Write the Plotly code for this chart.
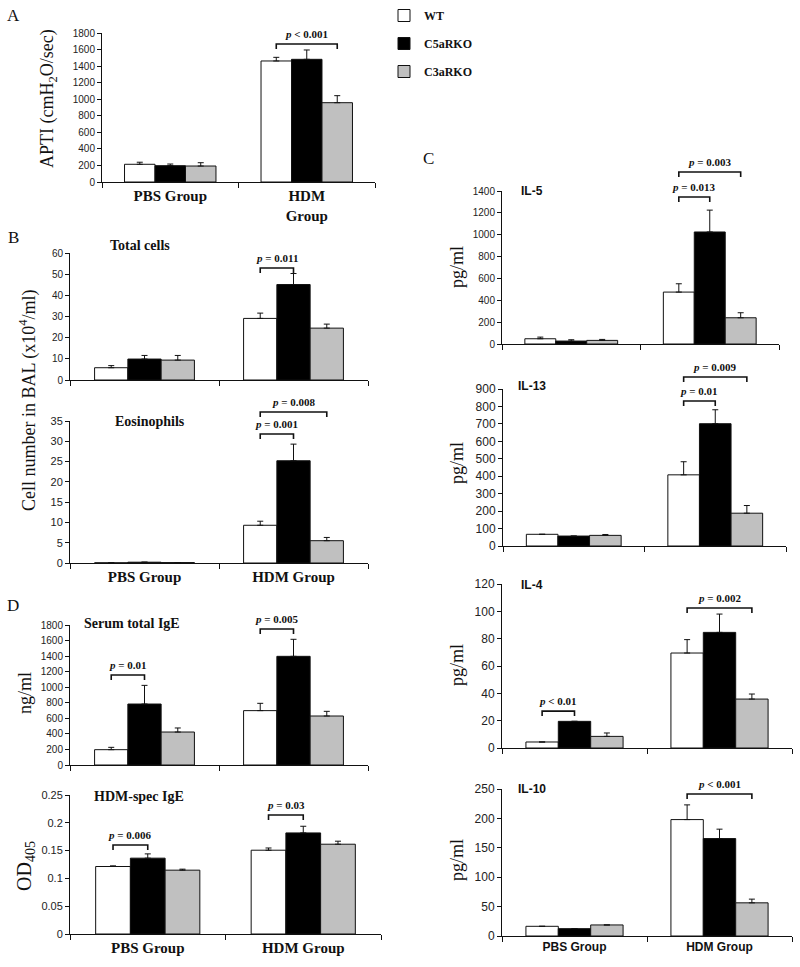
import plotly.graph_objects as go

W, H = 800, 967

GROUPS = ["PBS Group", "HDM Group"]
STRAINS = ["WT", "C5aRKO", "C3aRKO"]
COLORS = ["#ffffff", "#000000", "#c0c0c0"]

# ---- data (rows: WT, C5aRKO, C3aRKO; columns: PBS, HDM) ----
APTI_MEAN = [[214, 1462], [197, 1482], [193, 958]]
APTI_SEM = [[25, 44], [20, 113], [40, 85]]
TOTAL_MEAN = [[5.8, 29.1], [9.9, 45.1], [9.4, 24.5]]
TOTAL_SEM = [[1.0, 2.5], [1.7, 5.2], [2.2, 1.9]]
EOS_MEAN = [[0.05, 9.3], [0.2, 25.2], [0.1, 5.5]]
EOS_SEM = [[0, 1.0], [0, 4.1], [0, 0.8]]
IGE_MEAN = [[197, 699], [784, 1397], [424, 630]]
IGE_SEM = [[30, 94], [240, 219], [52, 60]]
SPEC_MEAN = [[0.1214, 0.1507], [0.1364, 0.1818], [0.1148, 0.1615]]
SPEC_SEM = [[0.0012, 0.004], [0.0077, 0.012], [0.0018, 0.0054]]
IL5_MEAN = [[48, 475], [27, 1025], [33, 240]]
IL5_SEM = [[15, 76], [12, 200], [9, 46]]
IL13_MEAN = [[67, 408], [57, 701], [61, 188]]
IL13_SEM = [[0, 75], [0, 80], [5, 44]]
IL4_MEAN = [[4.4, 69.5], [19.5, 84.6], [8.5, 35.8]]
IL4_SEM = [[0, 9.8], [0, 13.4], [2.5, 3.7]]
IL10_MEAN = [[16.5, 198], [12.5, 165.7], [18.8, 56.4]]
IL10_SEM = [[0, 25], [0, 16], [0, 6.3]]

# x tick labels shown under some panels
A_LABELS = ["<b>PBS Group</b>", "<b>HDM<br>Group</b>"]
GROUP_LABELS = ["<b>PBS Group</b>", "<b>HDM Group</b>"]

# significance brackets: (group index, bar a, bar b, bracket level, label)
A_P = [(1, 0, 2, 1667, "< 0.001")]
TOTAL_P = [(1, 0, 1, 52.9, "= 0.011")]
EOS_P = [(1, 0, 2, 37.2, "= 0.008"), (1, 0, 1, 31.8, "= 0.001")]
IGE_P = [(0, 0, 1, 1157, "= 0.01"), (1, 0, 1, 1749, "= 0.005")]
SPEC_P = [(0, 0, 1, 0.160, "= 0.006"), (1, 0, 1, 0.214, "= 0.03")]
IL5_P = [(1, 0, 1, 1345, "= 0.013"), (1, 0, 2, 1574, "= 0.003")]
IL13_P = [(1, 0, 1, 831, "= 0.01"), (1, 0, 2, 969, "= 0.009")]
IL4_P = [(0, 0, 1, 27, "< 0.01"), (1, 0, 2, 102.4, "= 0.002")]
IL10_P = [(1, 0, 2, 241.5, "< 0.001")]

SERIF = "Liberation Serif, Times New Roman, serif"
SANS = "Liberation Sans, Arial, sans-serif"
BARGAP = 0.33

# ---- panel layout: box = (left, top, right, bottom) in pixels ----
panels = [
    dict(mean=APTI_MEAN, sem=APTI_SEM, box=(102, 33, 375, 182), ymax=1800, dtick=200, tfs=10,
         labels=A_LABELS, lfont=SERIF, lfs=15, p=A_P),
    dict(mean=TOTAL_MEAN, sem=TOTAL_SEM, box=(70, 253, 368, 380), ymax=60, dtick=10, tfs=10,
         labels=None, p=TOTAL_P),
    dict(mean=EOS_MEAN, sem=EOS_SEM, box=(70, 421, 368, 563), ymax=35, dtick=5, tfs=11,
         labels=GROUP_LABELS, lfont=SERIF, lfs=15, p=EOS_P),
    dict(mean=IGE_MEAN, sem=IGE_SEM, box=(70, 625, 368, 765), ymax=1800, dtick=200, tfs=10,
         labels=None, p=IGE_P),
    dict(mean=SPEC_MEAN, sem=SPEC_SEM, box=(70, 795, 381, 934), ymax=0.25, dtick=0.05, tfs=11,
         labels=GROUP_LABELS, lfont=SERIF, lfs=15, p=SPEC_P),
    dict(mean=IL5_MEAN, sem=IL5_SEM, box=(502, 191, 779, 344), ymax=1400, dtick=200, tfs=10,
         labels=None, p=IL5_P),
    dict(mean=IL13_MEAN, sem=IL13_SEM, box=(503, 389, 786, 546), ymax=900, dtick=100, tfs=12,
         labels=None, p=IL13_P),
    dict(mean=IL4_MEAN, sem=IL4_SEM, box=(502, 584, 792, 748), ymax=120, dtick=20, tfs=12,
         labels=None, p=IL4_P),
    dict(mean=IL10_MEAN, sem=IL10_SEM, box=(502, 789, 792, 936), ymax=250, dtick=50, tfs=12,
         labels=GROUP_LABELS, lfont=SANS, lfs=12, p=IL10_P),
]

fig = go.Figure()
layout = {}
shapes = []
annotations = []


def bar_center_px(box, gi, k):
    left, top, right, bottom = box
    cw = (right - left) / 2
    bw = cw * (1 - BARGAP) / 3
    return left + (gi + 0.5) * cw + (k - 1) * bw


def value_px(box, ymax, v):
    left, top, right, bottom = box
    return bottom - v / ymax * (bottom - top)


for i, p in enumerate(panels):
    n = "" if i == 0 else str(i + 1)
    left, top, right, bottom = p["box"]
    for k, strain in enumerate(STRAINS):
        fig.add_trace(go.Bar(
            x=GROUPS, y=p["mean"][k], name="<b>%s</b>" % strain,
            marker=dict(color=COLORS[k], line=dict(color="#111111", width=1)),
            error_y=dict(type="data", array=p["sem"][k], arrayminus=[0, 0], symmetric=False,
                         color="#111111", thickness=1, width=3),
            xaxis="x" + n, yaxis="y" + n,
            showlegend=(i == 0), legendgroup=strain,
        ))
    labels = p["labels"]
    xa = dict(
        domain=[left / W, right / W], anchor="y" + n, type="category",
        categoryorder="array", categoryarray=GROUPS, range=[-0.5, 1.5],
        showline=True, linecolor="#111111", linewidth=1, ticks="outside",
        tickson="boundaries", ticklen=5, tickcolor="#111111", showgrid=False,
        showticklabels=labels is not None, fixedrange=True,
    )
    if labels is not None:
        xa.update(tickmode="array", tickvals=GROUPS, ticktext=labels,
                  tickfont=dict(family=p["lfont"], size=p["lfs"], color="#111111"))
    layout["xaxis" + n] = xa
    layout["yaxis" + n] = dict(
        domain=[1 - bottom / H, 1 - top / H], anchor="x" + n, range=[0, p["ymax"]],
        tick0=0, dtick=p["dtick"], showline=True, linecolor="#111111", linewidth=1,
        ticks="outside", ticklen=4, tickcolor="#111111", showgrid=False, zeroline=False,
        tickfont=dict(family=SANS, size=p["tfs"], color="#222222"), fixedrange=True,
    )
    # significance brackets
    for gi, a, b, lvl, lab in p["p"]:
        x1 = bar_center_px(p["box"], gi, a)
        x2 = bar_center_px(p["box"], gi, b)
        yt = value_px(p["box"], p["ymax"], lvl)
        yl = yt + 5
        path = "M %f,%f L %f,%f L %f,%f L %f,%f" % (
            x1 / W, 1 - yl / H, x1 / W, 1 - yt / H, x2 / W, 1 - yt / H, x2 / W, 1 - yl / H)
        shapes.append(dict(type="path", path=path, xref="paper", yref="paper",
                           line=dict(color="#111111", width=1.6)))
        annotations.append(dict(
            x=(x1 + x2) / 2 / W, y=1 - (yt - 10) / H, xref="paper", yref="paper",
            text="<b><i>p</i> %s</b>" % lab, showarrow=False, xanchor="center", yanchor="middle",
            font=dict(family=SERIF, size=11, color="#111111")))


def txt(x, y, text, size, family=SERIF, angle=0, xanchor="center"):
    annotations.append(dict(x=x / W, y=1 - y / H, xref="paper", yref="paper", text=text,
                            showarrow=False, textangle=angle, xanchor=xanchor, yanchor="middle",
                            font=dict(family=family, size=size, color="#111111")))


# panel letters
txt(13, 15, "A", 17)
txt(13, 237, "B", 17)
txt(428, 158, "C", 17)
txt(13, 605, "D", 17)

# y-axis titles
txt(48, 99, "APTI (cmH<sub>2</sub>O/sec)", 18, angle=-90)
txt(28, 400, "Cell number in BAL (x10<sup>4</sup>/ml)", 18, angle=-90)
txt(25, 693, "ng/ml", 18, angle=-90)
txt(25, 866, "OD<sub>405</sub>", 20, angle=-90)
for yc in (267, 463, 665, 860):
    txt(457, yc, "pg/ml", 18, angle=-90)

# panel subtitles
txt(140, 245, "<b>Total cells</b>", 14)
txt(150, 421, "<b>Eosinophils</b>", 14)
txt(132, 623, "<b>Serum total IgE</b>", 14)
txt(139, 796, "<b>HDM-spec IgE</b>", 14)
txt(519, 191, "<b>IL-5</b>", 12, family=SANS, xanchor="left")
txt(516, 386, "<b>IL-13</b>", 12, family=SANS, xanchor="left")
txt(519, 585, "<b>IL-4</b>", 12, family=SANS, xanchor="left")
txt(516, 789, "<b>IL-10</b>", 12, family=SANS, xanchor="left")

fig.update_layout(
    width=W, height=H, margin=dict(l=0, r=0, t=0, b=0, autoexpand=False),
    paper_bgcolor="white", plot_bgcolor="white",
    barmode="group", bargap=BARGAP, bargroupgap=0,
    shapes=shapes, annotations=annotations,
    legend=dict(x=384 / W, y=1 - 1 / H, xanchor="left", yanchor="top",
                traceorder="grouped", tracegroupgap=9,
                font=dict(family=SERIF, size=12, color="#111111"),
                bgcolor="rgba(0,0,0,0)"),
    **layout,
)

fig.write_html("out.html", config={"displayModeBar": False},
               post_script="document.body.style.margin='0px';")
